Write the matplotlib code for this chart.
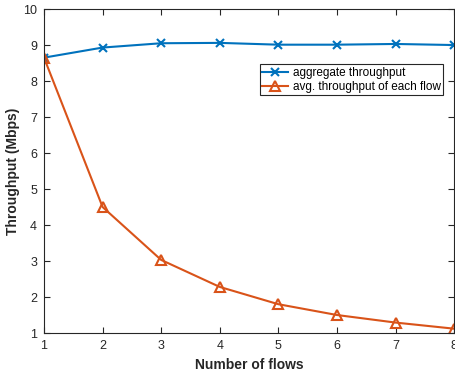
import matplotlib
matplotlib.use("Agg")
import matplotlib.pyplot as plt

flows = [1, 2, 3, 4, 5, 6, 7, 8]
aggregate = [8.65, 8.93, 9.05, 9.06, 9.01, 9.01, 9.03, 9.00]
avg_each = [8.65, 4.50, 3.03, 2.28, 1.80, 1.50, 1.29, 1.12]

plt.rcParams['font.family'] = ['Liberation Sans', 'DejaVu Sans']
fig = plt.figure(figsize=(4.55, 3.77), dpi=100)
ax = fig.add_axes([0.0967, 0.1167, 0.9013, 0.8593])

ax.plot(flows, aggregate, color='#0072BD', lw=1.5, marker='x', ms=6, mew=1.5,
        label='aggregate throughput')
ax.plot(flows, avg_each, color='#D95319', lw=1.5, marker='^', ms=7, mew=1.5,
        mfc='none', label='avg. throughput of each flow')

ax.set_xlim(1, 8)
ax.set_ylim(1, 10)
ax.set_xticks(flows)
ax.set_yticks(range(1, 11))
ax.tick_params(direction='in', top=True, right=True, labelsize=9, colors='#262626',
               length=4, width=0.8, pad=5)
for s in ax.spines.values():
    s.set_color('#262626')
    s.set_linewidth(0.8)
ax.set_xlabel('Number of flows', fontsize=10, fontweight='bold', color='#262626', labelpad=4)
ax.set_ylabel('Throughput (Mbps)', fontsize=10, fontweight='bold', color='#262626')
ax.yaxis.set_label_coords(-0.058, 0.5)

leg = ax.legend(loc='upper right', bbox_to_anchor=(0.974, 0.829), fontsize=8.5,
                fancybox=False, framealpha=1, edgecolor='#262626',
                handlelength=2.2, borderpad=0.22, labelspacing=0.15, handletextpad=0.4,
                borderaxespad=0)
leg.get_frame().set_linewidth(0.8)

fig.savefig('out.png', dpi=100)
